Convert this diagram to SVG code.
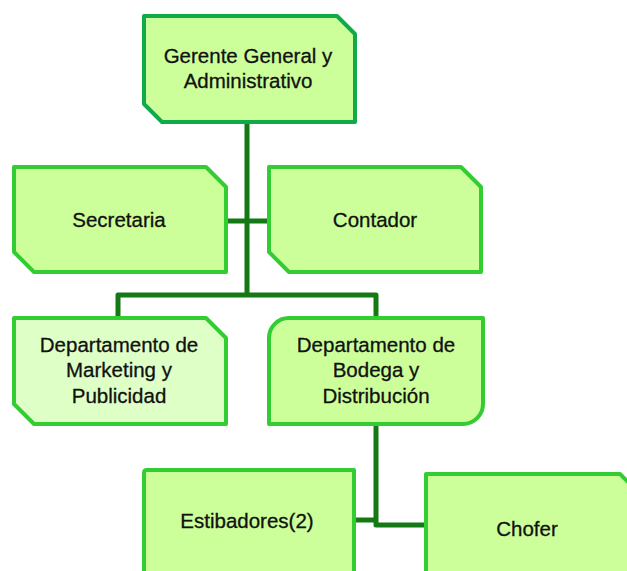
<svg xmlns="http://www.w3.org/2000/svg" width="627" height="571" viewBox="0 0 627 571">
<style>
.box{fill:#CCFF99;stroke:#33CC33;stroke-width:4;stroke-linejoin:round}
.top{stroke:#11AA4A}
.light{fill:#DEFFC6}
.conn{fill:none;stroke:#147814;stroke-width:5;stroke-linejoin:round}
text{font-family:"Liberation Sans",Arial,sans-serif;font-size:20.5px;fill:#111;stroke:#111;stroke-width:0.3;text-anchor:middle}
</style>
<rect width="627" height="571" fill="#fff"/>
<g id="connectors">
<path class="conn" d="M247,124 V295"/>
<path class="conn" d="M228,221 H267"/>
<path class="conn" d="M118,316 V295 H376 V316"/>
<path class="conn" d="M376,426 V525 H424"/>
<path class="conn" d="M356,520 H376"/>
</g>
<g id="gerente">
<path class="box top" d="M144,16 H337 L355,34 V122 H162 L144,104 Z"/>
<text x="248" y="63">Gerente General y</text>
<text x="248" y="88">Administrativo</text>
</g>
<g id="secretaria">
<path class="box" d="M14,167 H206 L226,187 V272 H34 L14,252 Z"/>
<text x="119" y="227">Secretaria</text>
</g>
<g id="contador">
<path class="box" d="M269,167 H461 L481,187 V272 H289 L269,252 Z"/>
<text x="375" y="227">Contador</text>
</g>
<g id="marketing">
<path class="box light" d="M14,318 H206 L226,338 V424 H34 L14,404 Z"/>
<text x="119" y="352">Departamento de</text>
<text x="119" y="377">Marketing y</text>
<text x="119" y="403">Publicidad</text>
</g>
<g id="bodega">
<path class="box" d="M289,318 H483 V404 A20,20 0 0 1 463,424 H269 V338 A20,20 0 0 1 289,318 Z"/>
<text x="376" y="352">Departamento de</text>
<text x="376" y="377">Bodega y</text>
<text x="376" y="403">Distribución</text>
</g>
<g id="estibadores">
<path class="box" d="M147,470 H354 V590 H144 V473 Q144,470 147,470 Z"/>
<text x="247" y="528">Estibadores(2)</text>
</g>
<g id="chofer">
<path class="box" d="M426,474 H620 L640,494 V590 H426 Z"/>
<text x="527" y="536">Chofer</text>
</g>
</svg>
